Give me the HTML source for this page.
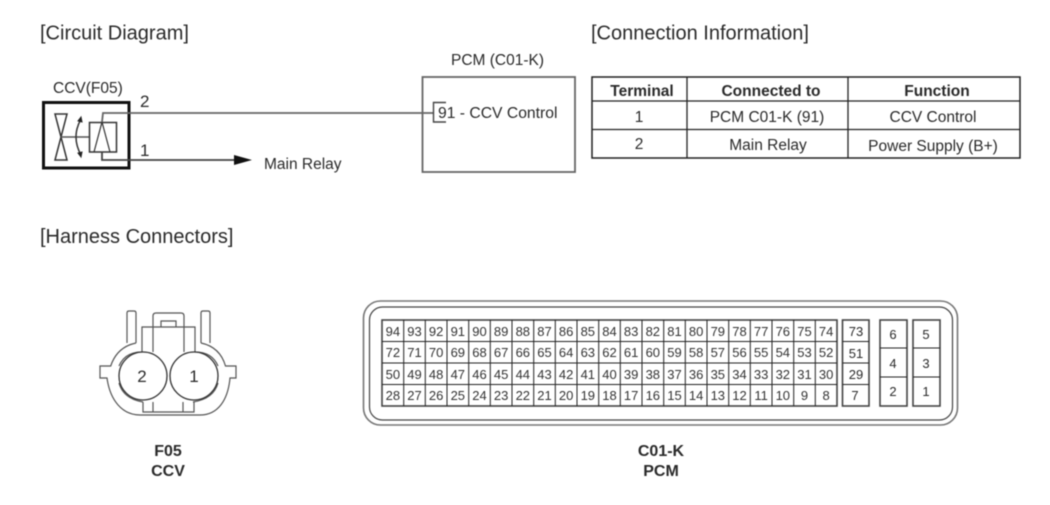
<!DOCTYPE html>
<html><head><meta charset="utf-8"><style>
html,body{margin:0;padding:0;background:#fff}
#p{position:relative;width:1050px;height:505px;overflow:hidden;background:#fff;font-family:"Liberation Sans",sans-serif;filter:blur(.5px)}
svg{position:absolute;left:0;top:0}
text{font-family:"Liberation Sans",sans-serif;fill:#2a2a2a}
.g{position:absolute;display:grid;font-size:13px;color:#333;text-align:center;line-height:21.5px;left:382px;top:320.5px;width:455px;height:86px;grid-template-columns:repeat(21,1fr);grid-auto-rows:21.5px}
</style></head><body><div id="p">
<svg width="1050" height="505" viewBox="0 0 1050 505" fill="none" stroke="#444" stroke-width="1">
<g stroke="none" font-size="20">
<text x="40" y="39.500">[Circuit Diagram]</text>
<text x="591" y="39.500">[Connection Information]</text>
<text x="40" y="243">[Harness Connectors]</text>
</g>
<g stroke="none" font-size="15.500">
<text x="53" y="93">CCV(F05)</text>
<text x="140" y="107" font-size="17">2</text>
<text x="140" y="156" font-size="17">1</text>
<text x="264" y="169">Main Relay</text>
<text x="451" y="65">PCM (C01-K)</text>
<text x="438" y="118" font-size="15.700">91 - CCV Control</text>
</g>
<rect x="43.500" y="102.500" width="85.500" height="65.500" stroke="#111" stroke-width="3"/>
<path d="M55 114H67L55 160H67Z" stroke="#333" stroke-width="1.500"/>
<path d="M61 137H89" stroke="#555" stroke-width="1.500"/>
<path d="M81 119Q71 137 81 155" stroke="#333" stroke-width="1.500"/>
<path d="M81 117l-3 4 4 1zM81 157l-3-4 4-1z" fill="#222" stroke="#222"/>
<rect x="89.500" y="122.500" width="27" height="29.500" stroke="#333" stroke-width="1.500"/>
<path d="M94 152L102 122L110 152" stroke="#333" stroke-width="1.200"/>
<path d="M102 122L103 113H433" stroke="#666" stroke-width="1.800"/>
<path d="M102 152V160H236" stroke="#444" stroke-width="1.800"/>
<path d="M234 155L252 160L234 165Z" fill="#111" stroke="none"/>
<rect x="422.500" y="77" width="152.500" height="95" stroke="#666" stroke-width="1.800"/>
<path d="M446 102.500H433.500V122H446" stroke="#444" stroke-width="1.400"/>
<rect x="592" y="77" width="428" height="81" stroke="#222" stroke-width="1.500"/>
<path d="M592 101H1020M592 129.500H1020M687 77V158M848 77V158" stroke="#222" stroke-width="1.300"/>
<g stroke="none" font-size="15.500" text-anchor="middle">
<g font-weight="bold"><text x="642" y="96">Terminal</text><text x="771" y="96">Connected to</text><text x="937" y="96">Function</text></g>
<text x="639" y="122">1</text><text x="767" y="122">PCM C01-K (91)</text><text x="933" y="122">CCV Control</text>
<text x="639" y="149">2</text><text x="768" y="150">Main Relay</text><text x="933" y="151">Power Supply (B+)</text>
</g>
<g stroke="#555" stroke-width="1.200">
<path d="M127 343V313Q127 311 129 311H134Q136 311 136 313V343"/>
<path d="M201 343V313Q201 311 203 311H208Q210 311 210 313V343"/>
<path d="M153 327V316Q153 313 156 313H181Q184 313 184 316V327"/>
<path d="M161 327V321H176V327"/>
<path d="M142 352V327H195V352M153 327V352M184 327V352"/>
<path d="M136 343Q117 347 110.700 366H100V378H107C110 400 122 415 140 415H200C218 415 228 400 230 378H236V366H225.500Q220 347 201 343"/>
<path d="M142 352Q125 352 119 366M195 352Q212 352 218 366"/>
<path d="M119 383C122 394 131 400 143 402M193 402C206 400 215 394 218 383"/>
<path d="M143 402V412H153V402M183 402V412H194V402M153 412H183"/>
</g>
<circle cx="143" cy="376" r="24" fill="#fff" stroke="#333" stroke-width="1.300"/>
<circle cx="194" cy="376" r="24" fill="#fff" stroke="#333" stroke-width="1.300"/>
<g stroke="none" font-size="17" text-anchor="middle"><text x="142" y="382">2</text><text x="194" y="382">1</text></g>
<g stroke="none" font-size="16" font-weight="bold" text-anchor="middle" fill="#111">
<text x="168" y="456">F05</text><text x="168" y="476">CCV</text>
<text x="661" y="456">C01-K</text><text x="661" y="476">PCM</text>
</g>
<rect x="363.500" y="301" width="594" height="124" rx="17" stroke="#777" stroke-width="1.600"/>
<rect x="369.500" y="307" width="583" height="113" rx="13" stroke="#444" stroke-width="1.200"/>
<rect x="382" y="320" width="455" height="86" stroke="#444" stroke-width="1.600"/>
<path d="M382 341.500H837M382 363H837M382 384.500H837" stroke="#222"/>
<path d="M403.700 320v86M425.300 320v86M447 320v86M468.700 320v86M490.300 320v86M512 320v86M533.700 320v86M555.300 320v86M577 320v86M598.700 320v86M620.300 320v86M642 320v86M663.700 320v86M685.300 320v86M707 320v86M728.700 320v86M750.300 320v86M772 320v86M793.700 320v86M815.300 320v86" stroke="#222"/>
<rect x="842.500" y="320" width="26.500" height="86" stroke="#444" stroke-width="1.600"/>
<path d="M842.500 341.500H869M842.500 363H869M842.500 384.500H869" stroke="#222"/>
<rect x="880" y="320" width="27" height="86" stroke="#444" stroke-width="1.600"/>
<rect x="913" y="320" width="27" height="86" stroke="#444" stroke-width="1.600"/>
<path d="M880 348H907M880 377H907M913 348H940M913 377H940" stroke="#222"/>
<g stroke="none" font-size="13" text-anchor="middle" fill="#333">
<text x="856" y="336">73</text><text x="856" y="358">51</text><text x="856" y="379">29</text><text x="855" y="400">7</text>
<text x="893" y="339">6</text><text x="893" y="368">4</text><text x="893" y="396">2</text>
<text x="926" y="339">5</text><text x="926" y="368">3</text><text x="926" y="396">1</text>
</g>
</svg>
<div class="g">
<span>94</span><span>93</span><span>92</span><span>91</span><span>90</span><span>89</span><span>88</span><span>87</span><span>86</span><span>85</span><span>84</span><span>83</span><span>82</span><span>81</span><span>80</span><span>79</span><span>78</span><span>77</span><span>76</span><span>75</span><span>74</span>
<span>72</span><span>71</span><span>70</span><span>69</span><span>68</span><span>67</span><span>66</span><span>65</span><span>64</span><span>63</span><span>62</span><span>61</span><span>60</span><span>59</span><span>58</span><span>57</span><span>56</span><span>55</span><span>54</span><span>53</span><span>52</span>
<span>50</span><span>49</span><span>48</span><span>47</span><span>46</span><span>45</span><span>44</span><span>43</span><span>42</span><span>41</span><span>40</span><span>39</span><span>38</span><span>37</span><span>36</span><span>35</span><span>34</span><span>33</span><span>32</span><span>31</span><span>30</span>
<span>28</span><span>27</span><span>26</span><span>25</span><span>24</span><span>23</span><span>22</span><span>21</span><span>20</span><span>19</span><span>18</span><span>17</span><span>16</span><span>15</span><span>14</span><span>13</span><span>12</span><span>11</span><span>10</span><span>9</span><span>8</span>
</div>
</div></body></html>
